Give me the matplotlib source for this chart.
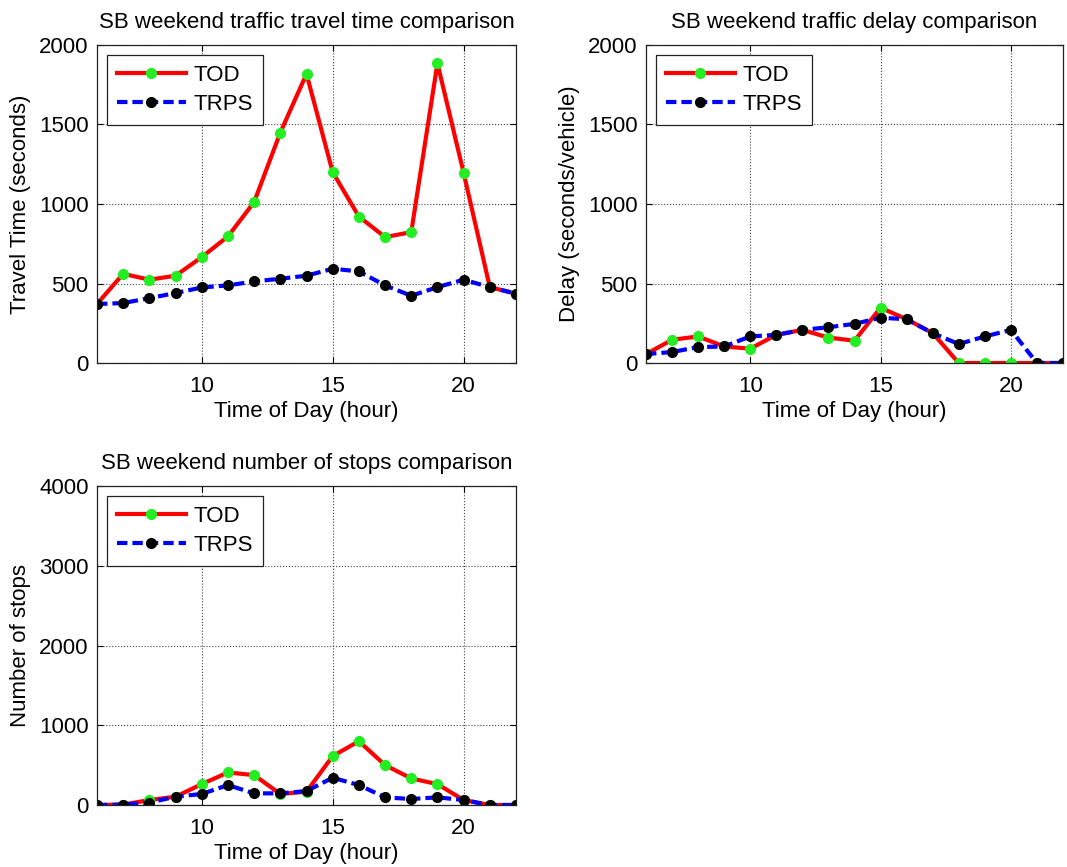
import matplotlib
matplotlib.use("Agg")
import matplotlib.pyplot as plt

plt.rcParams["font.family"] = ["Liberation Sans", "DejaVu Sans"]

hours = list(range(6, 23))

# travel time (seconds)
tt_tod = [371, 561, 524, 549, 666, 796, 1012, 1449, 1818, 1200, 921, 792, 823, 1885, 1196, 477, 436]
tt_trps = [371, 377, 408, 440, 475, 488, 513, 530, 549, 593, 576, 488, 423, 477, 524, 477, 436]

# delay (seconds/vehicle)
dl_tod = [56, 146, 167, 104, 90, 177, 208, 160, 140, 348, 275, 188, 0, 0, 0, 0, 0]
dl_trps = [56, 69, 100, 104, 167, 177, 208, 225, 246, 285, 275, 188, 119, 167, 208, 0, 0]

# number of stops
ns_tod = [0, 5, 62, 104, 262, 408, 375, 138, 167, 613, 800, 500, 333, 262, 62, 0, 0]
ns_trps = [0, 5, 30, 104, 138, 250, 146, 146, 175, 342, 250, 96, 75, 96, 62, 0, 0]

W, H = 1067, 867
FS = 16
fig = plt.figure(figsize=(W / 100, H / 100), dpi=100)


def panel(px, title, ylabel, tod, trps, ymax, ystep):
    l, t, r, b = px
    ax = fig.add_axes([l / W, 1 - b / H, (r - l) / W, (b - t) / H])
    ax.plot(hours, tod, "-o", color="#ff0000", lw=3, ms=7,
            mfc="#22ee22", mec="#22ee22", label="TOD")
    ax.plot(hours, trps, "--o", color="#0000ff", lw=3, ms=7,
            mfc="black", mec="black", label="TRPS", dashes=(2.5, 1.2))
    ax.set_xlim(6, 22)
    ax.set_ylim(0, ymax)
    ax.set_xticks([10, 15, 20])
    ax.set_yticks(range(0, ymax + 1, ystep))
    ax.grid(True, ls=":", color="#444444", lw=0.8)
    ax.tick_params(direction="in", labelsize=FS, length=4, top=True, right=True)
    ax.tick_params(axis="x", pad=9)
    ax.tick_params(axis="y", pad=6)
    ax.set_title(title, fontsize=FS, pad=12)
    ax.set_xlabel("Time of Day (hour)", fontsize=FS, labelpad=3)
    ax.set_ylabel(ylabel, fontsize=FS, labelpad=6)
    leg = ax.legend(loc="upper left", fontsize=FS, fancybox=False, framealpha=1,
                    edgecolor="#222222", handlelength=3.1, borderaxespad=0.45,
                    labelspacing=0.35, handletextpad=0.35, borderpad=0.45)
    leg.get_frame().set_linewidth(0.9)
    for s in ax.spines.values():
        s.set_linewidth(0.9)
        s.set_color("#222222")
    return ax


panel((97, 45, 516, 363), "SB weekend traffic travel time comparison",
      "Travel Time (seconds)", tt_tod, tt_trps, 2000, 500)
panel((646, 45, 1063, 363), "SB weekend traffic delay comparison",
      "Delay (seconds/vehicle)", dl_tod, dl_trps, 2000, 500)
panel((97, 486, 516, 805), "SB weekend number of stops comparison",
      "Number of stops", ns_tod, ns_trps, 4000, 1000)

fig.savefig("out.png", dpi=100, facecolor="white")
